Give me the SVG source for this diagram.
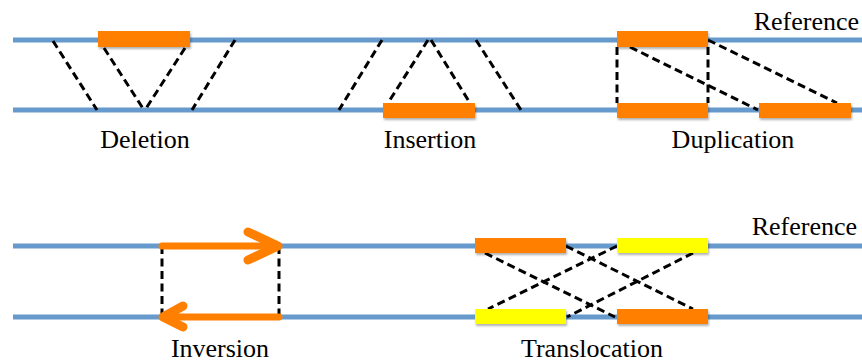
<svg xmlns="http://www.w3.org/2000/svg" width="862" height="362" viewBox="0 0 862 362">
  <defs>
    <filter id="shadow" x="-10%" y="-40%" width="120%" height="190%">
      <feDropShadow dx="1" dy="2" stdDeviation="1.2" flood-color="#000" flood-opacity="0.3"/>
    </filter>
    <style>
      .strand { stroke: #6699cc; stroke-width: 5; fill: none; }
      .seg-o { fill: #ff7f00; filter: url(#shadow); }
      .seg-y { fill: #ffff00; filter: url(#shadow); }
      .link { stroke: #000; stroke-width: 3; stroke-dasharray: 8 4.5; fill: none; }
      .inv { stroke: #ff7f00; fill: none; stroke-linecap: round; stroke-linejoin: round; }
      .label { font-size: 26px; fill: #000; }
    </style>
  </defs>

  <!-- chromosome strands -->
  <g id="strands">
    <line class="strand" x1="13" y1="40" x2="862" y2="40"/>
    <line class="strand" x1="13" y1="110" x2="862" y2="110"/>
    <line class="strand" x1="13" y1="246" x2="862" y2="246"/>
    <line class="strand" x1="13" y1="317" x2="862" y2="317"/>
  </g>

  <!-- dashed correspondences between the strands -->
  <g id="connectors">
    <!-- deletion -->
    <line class="link" x1="53" y1="41" x2="97" y2="110"/>
    <line class="link" x1="104" y1="48" x2="144" y2="110"/>
    <line class="link" x1="185" y1="48" x2="145" y2="110"/>
    <line class="link" x1="235" y1="40" x2="192" y2="110"/>
    <!-- insertion -->
    <line class="link" x1="382" y1="40" x2="339" y2="110"/>
    <line class="link" x1="428" y1="40" x2="388" y2="103"/>
    <line class="link" x1="431" y1="40" x2="470" y2="103"/>
    <line class="link" x1="476" y1="40" x2="521" y2="110"/>
    <!-- duplication -->
    <line class="link" x1="617" y1="47" x2="617" y2="103"/>
    <line class="link" x1="708" y1="47" x2="708" y2="103"/>
    <line class="link" x1="630" y1="47" x2="758" y2="110"/>
    <line class="link" x1="708" y1="40" x2="837" y2="103"/>
    <!-- inversion -->
    <line class="link" x1="162" y1="246" x2="162" y2="317"/>
    <line class="link" x1="279" y1="246" x2="279" y2="317"/>
    <!-- translocation -->
    <line class="link" x1="485" y1="253" x2="615" y2="317"/>
    <line class="link" x1="566" y1="246" x2="693" y2="309"/>
    <line class="link" x1="617" y1="246" x2="488" y2="309"/>
    <line class="link" x1="693" y1="253" x2="567" y2="317"/>
  </g>

  <g id="deletion">
    <rect class="seg-o" x="98" y="31" width="92" height="16"/>
    <text class="label" font-family="Liberation Serif, Times New Roman, DejaVu Serif, serif" x="145" y="148" text-anchor="middle">Deletion</text>
  </g>

  <g id="insertion">
    <rect class="seg-o" x="383" y="103" width="92" height="15"/>
    <text class="label" font-family="Liberation Serif, Times New Roman, DejaVu Serif, serif" x="430" y="148" text-anchor="middle">Insertion</text>
  </g>

  <g id="duplication">
    <rect class="seg-o" x="617" y="31" width="91" height="16"/>
    <rect class="seg-o" x="617" y="103" width="91" height="15"/>
    <rect class="seg-o" x="759" y="103" width="92" height="15"/>
    <text class="label" font-family="Liberation Serif, Times New Roman, DejaVu Serif, serif" x="733" y="148" text-anchor="middle">Duplication</text>
  </g>

  <g id="reference-top">
    <text class="label" font-family="Liberation Serif, Times New Roman, DejaVu Serif, serif" x="859" y="30" text-anchor="end">Reference</text>
  </g>

  <g id="inversion">
    <line class="inv" x1="162" y1="246" x2="276" y2="246" stroke-width="7" stroke-linecap="butt"/>
    <polyline class="inv" points="248,232 278,246 248,260" stroke-width="9"/>
    <line class="inv" x1="279" y1="317" x2="165" y2="317" stroke-width="7" stroke-linecap="butt"/>
    <polyline class="inv" points="183,306 163,317 183,327" stroke-width="9"/>
    <text class="label" font-family="Liberation Serif, Times New Roman, DejaVu Serif, serif" x="220" y="357" text-anchor="middle">Inversion</text>
  </g>

  <g id="translocation">
    <rect class="seg-o" x="475" y="238" width="91" height="15"/>
    <rect class="seg-y" x="617" y="238" width="91" height="15"/>
    <rect class="seg-y" x="475" y="309" width="91" height="15"/>
    <rect class="seg-o" x="617" y="309" width="91" height="15"/>
    <text class="label" font-family="Liberation Serif, Times New Roman, DejaVu Serif, serif" x="592" y="357" text-anchor="middle">Translocation</text>
  </g>

  <g id="reference-bottom">
    <text class="label" font-family="Liberation Serif, Times New Roman, DejaVu Serif, serif" x="857" y="235" text-anchor="end">Reference</text>
  </g>
</svg>
